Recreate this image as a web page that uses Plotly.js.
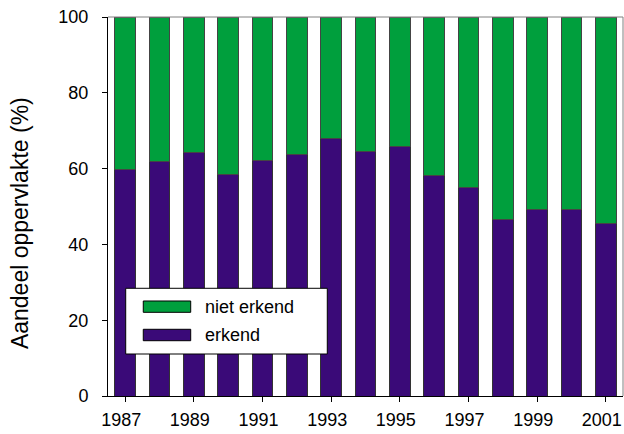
<!DOCTYPE html>
<html>
<head>
<meta charset="utf-8">
<script src="https://cdn.plot.ly/plotly-3.0.1.min.js"></script>
<style>html,body{margin:0;padding:0;background:#fff;}#chart{width:624px;height:434px;}</style>
</head>
<body>
<div id="chart"></div>
<script>
var years = [1987,1988,1989,1990,1991,1992,1993,1994,1995,1996,1997,1998,1999,2000,2001];
var erkend = [59.8,61.8,64.2,58.5,62.1,63.8,67.9,64.5,65.9,58.3,55.0,46.5,49.2,49.2,45.5];
var nietErkend = [40.2,38.2,35.8,41.5,37.9,36.2,32.1,35.5,34.1,41.7,45.0,53.5,50.8,50.8,54.5];
var yTicks = [0,20,40,60,80,100];
var xTicks = [1987,1989,1991,1993,1995,1997,1999,2001];
var xTickLabels = ['1987','1989','1991','1993','1995','1997','1999','2001'];
var seriesNames = ['erkend','niet erkend'];
var seriesColors = ['#3A0A78','#009F3D'];

var font = 'Arial, "Liberation Sans", sans-serif';
var traces = [
  {type:'bar', name:seriesNames[0], x:years, y:erkend, showlegend:false,
   marker:{color:seriesColors[0], line:{color:'#333333', width:1}}},
  {type:'bar', name:seriesNames[1], x:years, y:nietErkend, showlegend:false,
   marker:{color:seriesColors[1], line:{color:'#444444', width:1}}}
];

// custom legend (wide swatches like the reference)
var shapes = [
  {type:'line', xref:'paper', yref:'paper', x0:0, x1:1, y0:1, y1:1,
   line:{color:'#808080', width:1}},
  {type:'line', xref:'paper', yref:'paper', x0:1, x1:1, y0:0, y1:1,
   line:{color:'#808080', width:1}},
  {type:'rect', xref:'paper', yref:'paper', x0:0.0344, x1:0.4258, y0:0.1108, y1:0.2842,
   fillcolor:'#ffffff', line:{color:'#000', width:1}, layer:'above'},
  {type:'rect', xref:'paper', yref:'paper', x0:0.0685, x1:0.1606, y0:0.2208, y1:0.2507,
   fillcolor:seriesColors[1], line:{color:'#000', width:1}, layer:'above'},
  {type:'rect', xref:'paper', yref:'paper', x0:0.0685, x1:0.1606, y0:0.1459, y1:0.1760,
   fillcolor:seriesColors[0], line:{color:'#000', width:1}, layer:'above'}
];
var annotations = [
  {xref:'paper', yref:'paper', x:0.1839, y:0.236, xanchor:'left', yanchor:'middle',
   text:seriesNames[1], showarrow:false, font:{family:font, size:18, color:'#000'}},
  {xref:'paper', yref:'paper', x:0.1839, y:0.161, xanchor:'left', yanchor:'middle',
   text:seriesNames[0], showarrow:false, font:{family:font, size:18, color:'#000'}},
  {xref:'paper', yref:'paper', x:-0.171, y:0.456, xanchor:'center', yanchor:'middle',
   textangle:-90, text:'Aandeel oppervlakte (%)', showarrow:false,
   font:{family:font, size:23, color:'#000'}}
];

var layout = {
  width:624, height:434,
  margin:{l:108, r:1, t:17, b:38},
  paper_bgcolor:'#fff', plot_bgcolor:'#fff',
  barmode:'stack', bargap:0.4,
  font:{family:font, color:'#000', size:18},
  showlegend:false,
  xaxis:{range:[1986.5,2001.5], tickmode:'array', tickvals:xTicks,
         ticktext:xTickLabels, ticks:'outside', ticklen:5,
         tickcolor:'#000', showline:true, linecolor:'#000', linewidth:1,
         showgrid:false, zeroline:false, ticklabelstandoff:2,
         ticklabelshift:-4, ticklabeloverflow:'allow',
         tickfont:{family:font, size:18, color:'#000'}},
  yaxis:{range:[0,100], tickmode:'array', tickvals:yTicks,
         ticks:'outside', ticklen:5, tickcolor:'#000',
         showline:true, linecolor:'#000', linewidth:1,
         showgrid:false, zeroline:false, ticklabelstandoff:10,
         tickfont:{family:font, size:18, color:'#000'}},
  shapes:shapes,
  annotations:annotations
};
Plotly.newPlot('chart', traces, layout, {staticPlot:true, displayModeBar:false});
</script>
</body>
</html>
